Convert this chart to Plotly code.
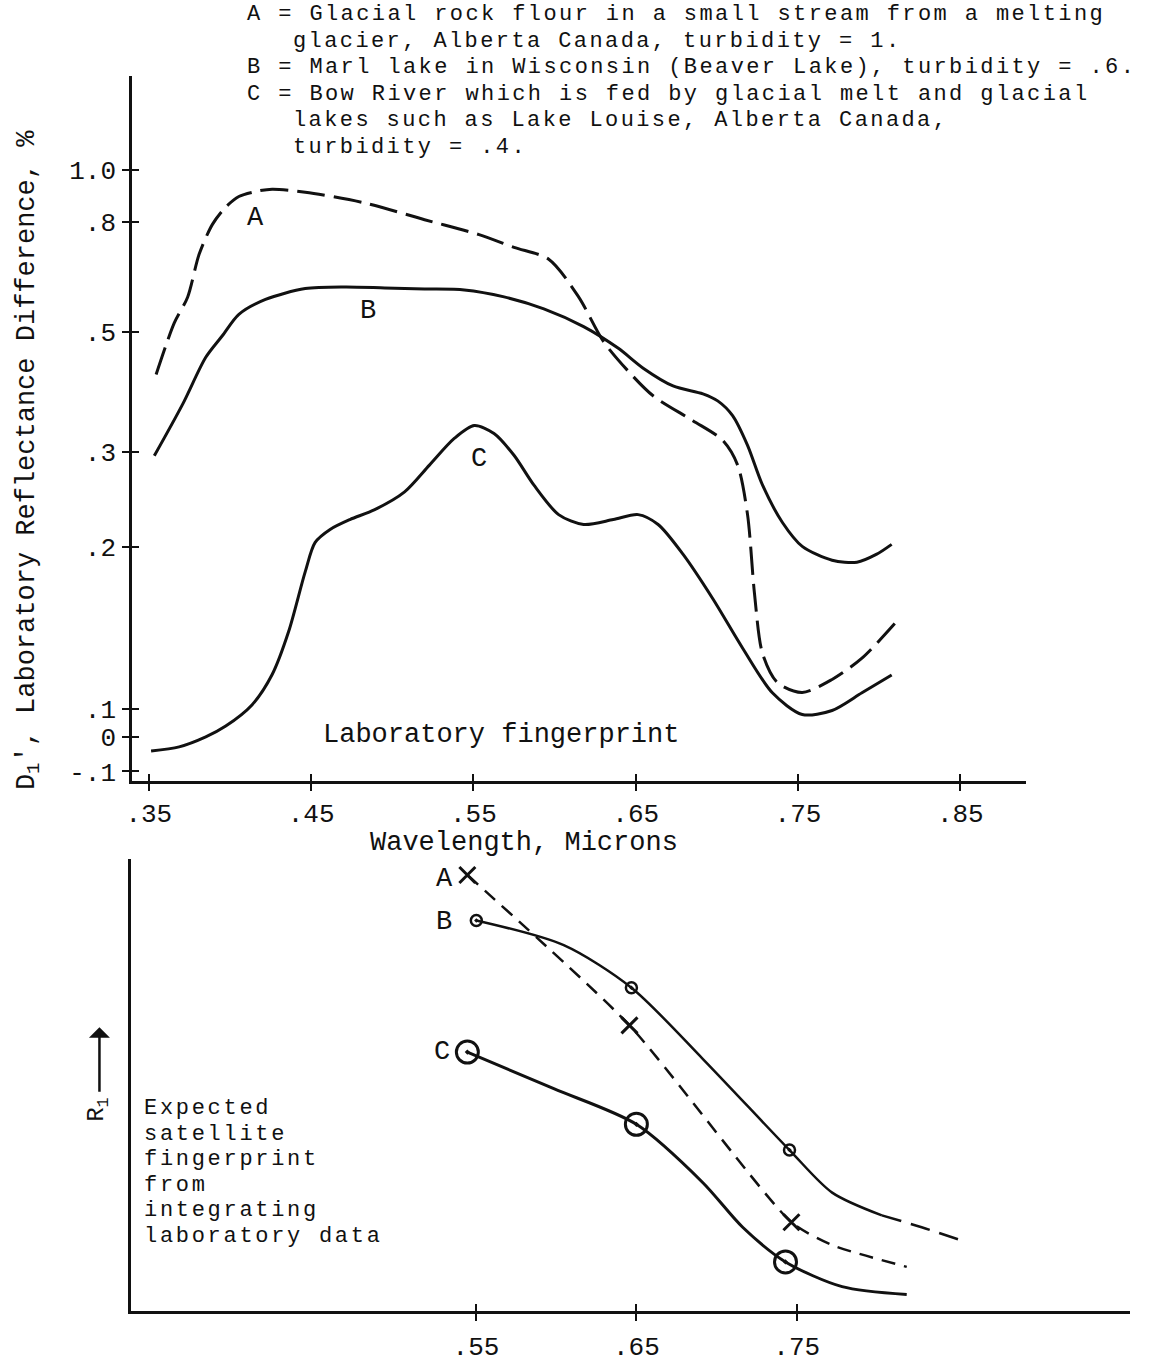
import plotly.graph_objects as go

W, H = 1174, 1363
FONT = "Liberation Mono, Courier New, monospace"
INK = "#111111"

# ---- upper panel: laboratory fingerprint (wavelength in microns, log reflectance difference)
lab_a_wl = [0.3545, 0.3657, 0.3739, 0.3810, 0.3892, 0.3974, 0.4055, 0.4177, 0.4260, 0.4464,
            0.4831, 0.5199, 0.5535, 0.5750, 0.5964, 0.6148, 0.6301, 0.6454, 0.6607, 0.6852,
            0.7036, 0.7128, 0.7189, 0.7232, 0.7281, 0.7373, 0.7526, 0.7710, 0.7894, 0.8096]
lab_a_val = [0.4177, 0.5205, 0.5808, 0.6974, 0.7926, 0.8532, 0.8929, 0.9144, 0.9213, 0.9094,
             0.8685, 0.8085, 0.7587, 0.7184, 0.6830, 0.5816, 0.4809, 0.4236, 0.3813, 0.3429,
             0.3152, 0.2836, 0.2296, 0.1637, 0.1270, 0.1121, 0.1075, 0.1136, 0.1244, 0.1442]

lab_b_wl = [0.3534, 0.3708, 0.3851, 0.3953, 0.4055, 0.4219, 0.4464, 0.4709, 0.4954, 0.5199,
            0.5444, 0.5689, 0.5934, 0.6179, 0.6393, 0.6546, 0.6730, 0.6914, 0.7005, 0.7097,
            0.7189, 0.7281, 0.7404, 0.7526, 0.7710, 0.7863, 0.7985, 0.8077]
lab_b_val = [0.2951, 0.3675, 0.4494, 0.4927, 0.5399, 0.5754, 0.6026, 0.6067, 0.6042, 0.6016,
             0.5991, 0.5816, 0.5528, 0.5124, 0.4669, 0.4290, 0.3977, 0.3845, 0.3731, 0.3503,
             0.3086, 0.2606, 0.2220, 0.2005, 0.1890, 0.1874, 0.1939, 0.2022]

lab_c_wl = [0.3514, 0.3687, 0.3851, 0.3974, 0.4137, 0.4260, 0.4361, 0.4464, 0.4525, 0.4617,
            0.4739, 0.4892, 0.5076, 0.5229, 0.5382, 0.5505, 0.5627, 0.5750, 0.5872, 0.6025,
            0.6179, 0.6362, 0.6515, 0.6638, 0.6791, 0.6975, 0.7159, 0.7342, 0.7526, 0.7710,
            0.7894, 0.8077]
lab_c_val = [0.0837, 0.0852, 0.0889, 0.0931, 0.1020, 0.1160, 0.1392, 0.1800, 0.2039, 0.2155,
             0.2248, 0.2345, 0.2530, 0.2836, 0.3178, 0.3358, 0.3246, 0.2958, 0.2606, 0.2296,
             0.2201, 0.2248, 0.2296, 0.2201, 0.1939, 0.1603, 0.1298, 0.1073, 0.0978, 0.0995,
             0.1073, 0.1158]

lab_xtick_vals = [0.35, 0.45, 0.55, 0.65, 0.75, 0.85]
lab_xtick_text = [".35", ".45", ".55", ".65", ".75", ".85"]
# the "0" and "-.1" marks sit below .1 on the original log scale
lab_ytick_vals = [0.0767, 0.0888, 0.1, 0.2, 0.3, 0.5, 0.8, 1.0]
lab_ytick_text = ["-.1", "0", ".1", ".2", ".3", ".5", ".8", "1.0"]

# ---- lower panel: expected satellite fingerprint (relative R1)
sat_a_wl = [0.5446, 0.6457, 0.7467, 0.7721, 0.8186]
sat_a_val = [1.0376, 0.6800, 0.2118, 0.1576, 0.1059]
sat_a_pts = [0, 1, 2]

sat_b_wl = [0.5502, 0.6047, 0.6469, 0.6915, 0.7455, 0.7721, 0.8031]
sat_b_val = [0.9294, 0.8706, 0.7694, 0.6000, 0.3835, 0.2824, 0.2282]
sat_b_tail_wl = [0.8031, 0.8279, 0.8558]
sat_b_tail_val = [0.2282, 0.2000, 0.1647]
sat_b_pts = [0, 2, 4]

sat_c_wl = [0.5446, 0.5985, 0.6500, 0.6915, 0.7163, 0.7430, 0.7783, 0.8186]
sat_c_val = [0.6165, 0.5294, 0.4447, 0.3059, 0.2000, 0.1176, 0.0588, 0.0400]
sat_c_pts = [0, 2, 5]

sat_xtick_vals = [0.55, 0.65, 0.75]
sat_xtick_text = [".55", ".65", ".75"]

legend_lines = [
    "A = Glacial rock flour in a small stream from a melting",
    "glacier, Alberta Canada, turbidity = 1.",
    "B = Marl lake in Wisconsin (Beaver Lake), turbidity = .6.",
    "C = Bow River which is fed by glacial melt and glacial",
    "lakes such as Lake Louise, Alberta Canada,",
    "turbidity = .4.",
]
legend_indent = [False, True, False, False, True, True]

note_lines = ["Expected", "satellite", "fingerprint", "from", "integrating", "laboratory data"]


def typed(txt, spacing):
    # wide typewriter pitch: small glyphs spread out
    return '<span style="letter-spacing:%.1fpx">%s</span>' % (spacing, txt)


fig = go.Figure()

line_style = dict(color=INK, width=3, shape="spline", smoothing=0.8)

fig.add_trace(go.Scatter(x=lab_a_wl, y=lab_a_val, mode="lines",
                         line=dict(line_style, dash="28px,9px"), xaxis="x", yaxis="y"))
fig.add_trace(go.Scatter(x=lab_b_wl, y=lab_b_val, mode="lines", line=line_style, xaxis="x", yaxis="y"))
# curve C sits on the overlay axes (same ranges) so their inner ticks are drawn
fig.add_trace(go.Scatter(x=lab_c_wl, y=lab_c_val, mode="lines", line=line_style, xaxis="x3", yaxis="y3"))

# lower panel lines
fig.add_trace(go.Scatter(x=sat_a_wl, y=sat_a_val, mode="lines",
                         line=dict(color=INK, width=2.5, dash="14px,9px", shape="spline", smoothing=0.6),
                         xaxis="x2", yaxis="y2"))
fig.add_trace(go.Scatter(x=sat_b_wl, y=sat_b_val, mode="lines",
                         line=dict(color=INK, width=2.5, shape="spline", smoothing=0.8),
                         xaxis="x2", yaxis="y2"))
fig.add_trace(go.Scatter(x=sat_b_tail_wl, y=sat_b_tail_val, mode="lines",
                         line=dict(color=INK, width=2.5, dash="20px,10px", shape="spline"),
                         xaxis="x2", yaxis="y2"))
fig.add_trace(go.Scatter(x=sat_c_wl, y=sat_c_val, mode="lines",
                         line=dict(color=INK, width=3, shape="spline", smoothing=0.8),
                         xaxis="x4", yaxis="y4"))

# lower panel point markers
fig.add_trace(go.Scatter(x=[sat_a_wl[i] for i in sat_a_pts], y=[sat_a_val[i] for i in sat_a_pts],
                         mode="markers", marker=dict(symbol="x-thin", size=16, line=dict(color=INK, width=3)),
                         xaxis="x2", yaxis="y2", cliponaxis=False))
fig.add_trace(go.Scatter(x=[sat_b_wl[i] for i in sat_b_pts], y=[sat_b_val[i] for i in sat_b_pts],
                         mode="markers", marker=dict(symbol="circle-open-dot", size=11, color=INK,
                                                     line=dict(color=INK, width=2.5)),
                         xaxis="x2", yaxis="y2", cliponaxis=False))
fig.add_trace(go.Scatter(x=[sat_c_wl[i] for i in sat_c_pts], y=[sat_c_val[i] for i in sat_c_pts],
                         mode="markers", marker=dict(symbol="circle-open-dot", size=22, color=INK,
                                                     line=dict(color=INK, width=3)),
                         xaxis="x4", yaxis="y4", cliponaxis=False))

tick_font = dict(family=FONT, size=26, color=INK)
axis_common = dict(showgrid=False, zeroline=False, showline=True, linewidth=3, linecolor=INK,
                   ticks="outside", ticklen=7, tickwidth=2, tickcolor=INK, tickfont=tick_font)
# second set of ticks drawn inside so the tick marks cross the axis lines
inner_ticks = dict(showgrid=False, zeroline=False, showline=False, ticks="inside", ticklen=7,
                   tickwidth=2, tickcolor=INK, showticklabels=False)

small = dict(family=FONT, size=22, color=INK)
big = dict(family=FONT, size=27, color=INK)

annotations = []
for i, txt in enumerate(legend_lines):
    annotations.append(dict(x=(286 if legend_indent[i] else 239) / W, y=1 - (15 + 26.8 * i) / H,
                            xref="paper", yref="paper", text=typed(txt, 2.4), showarrow=False,
                            xanchor="left", yanchor="middle", font=small))
for i, txt in enumerate(note_lines):
    annotations.append(dict(x=136 / W, y=1 - (1120 + 25.8 * i) / H, xref="paper", yref="paper",
                            text=typed(txt, 2.7), showarrow=False, xanchor="left", yanchor="middle",
                            font=small))

annotations += [
    dict(x=0.4159, y=-0.0886, xref="x", yref="y", text="A", showarrow=False, font=big, xanchor="center"),
    dict(x=0.4849, y=-0.2611, xref="x", yref="y", text="B", showarrow=False, font=big, xanchor="center"),
    dict(x=0.5535, y=-0.5363, xref="x", yref="y", text="C", showarrow=False, font=big, xanchor="center"),
    dict(x=0.5303, y=1.028, xref="x2", yref="y2", text="A", showarrow=False, font=big, xanchor="center"),
    dict(x=0.5303, y=0.9247, xref="x2", yref="y2", text="B", showarrow=False, font=big, xanchor="center"),
    dict(x=0.5286, y=0.6165, xref="x2", yref="y2", text="C", showarrow=False, font=big, xanchor="center"),
    dict(x=497 / W, y=1 - 743 / H, xref="paper", yref="paper", text="Laboratory fingerprint",
         showarrow=False, font=big, xanchor="center"),
    dict(x=520 / W, y=1 - 852 / H, xref="paper", yref="paper", text="Wavelength, Microns",
         showarrow=False, font=big, xanchor="center"),
    dict(x=22 / W, y=1 - 465 / H, xref="paper", yref="paper", textangle=-90, xanchor="center",
         text="D<sub>1</sub>', Laboratory Reflectance Difference, %", showarrow=False, font=big),
    dict(x=92 / W, y=1 - 1135 / H, xref="paper", yref="paper", textangle=-90, xanchor="center",
         text="R<sub>1</sub>", showarrow=False, font=dict(family=FONT, size=24, color=INK)),
    dict(x=93 / W, y=1 - 1038 / H, xref="paper", yref="paper", ax=0, ay=66, text="",
         showarrow=True, arrowhead=1, arrowsize=1.4, arrowwidth=2.5, arrowcolor=INK),
]

top_x = dict(domain=[126 / W, 1025 / W], range=[0.3398, 0.8904], tickvals=lab_xtick_vals)
top_y = dict(domain=[1 - 789 / H, 1 - 76.7 / H], type="log", range=[-1.1327, 0.1743],
             tickvals=lab_ytick_vals)
bot_x = dict(domain=[125 / W, 1130 / W], range=[0.335, 0.958], tickvals=sat_xtick_vals)
bot_y = dict(domain=[1 - 1325 / H, 1 - 868 / H], range=[0, 1.0753])

fig.update_layout(
    width=W, height=H, margin=dict(l=0, r=0, t=0, b=0),
    paper_bgcolor="white", plot_bgcolor="white", showlegend=False,
    font=dict(family=FONT, color=INK),
    xaxis=dict(axis_common, **top_x, anchor="y", ticktext=lab_xtick_text, ticklabelstandoff=0),
    yaxis=dict(axis_common, **top_y, anchor="x", ticktext=lab_ytick_text, ticklabelstandoff=1),
    xaxis3=dict(inner_ticks, **top_x, anchor="y", overlaying="x"),
    yaxis3=dict(inner_ticks, **top_y, anchor="x", overlaying="y"),
    xaxis2=dict(axis_common, **bot_x, anchor="y2", ticktext=sat_xtick_text, ticklabelstandoff=2),
    yaxis2=dict(axis_common, **bot_y, anchor="x2", ticks="", showticklabels=False),
    xaxis4=dict(inner_ticks, **bot_x, anchor="y2", overlaying="x2"),
    yaxis4=dict(bot_y, anchor="x2", overlaying="y2", showgrid=False, zeroline=False, showline=False,
                ticks="", showticklabels=False),
    annotations=annotations,
)

fig.write_html("out.html", config=dict(displayModeBar=False),
               post_script="document.body.style.margin='0';")
